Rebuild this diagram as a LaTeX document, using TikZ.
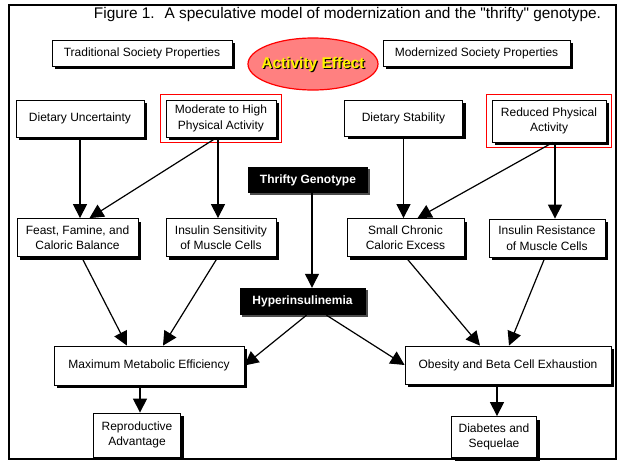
\documentclass[tikz,border=0pt]{standalone}
\usepackage{fontspec}
\setmainfont{Liberation Sans}[Ligatures=TeXOff]
\usepackage{tikz}
\usetikzlibrary{arrows.meta, positioning, calc, fit, shapes.geometric, shadows}

\definecolor{effectred}{HTML}{FF8080}

\tikzset{
    propbox/.style={draw=black, line width=0.8pt, fill=white, align=center, inner sep=0pt,
        font=\fontsize{12}{15.5}\selectfont,
        drop shadow={shadow xshift=3pt, shadow yshift=-3pt, fill=black, opacity=1}},
    genebox/.style={fill=black, text=white, inner sep=0pt,
        font=\fontsize{12}{14}\selectfont\bfseries,
        drop shadow={shadow xshift=2pt, shadow yshift=-2pt, fill=black!70, opacity=1}},
    redframe/.style={draw=red, line width=1pt, inner sep=5pt},
    arr/.style={line width=1.2pt, -{Triangle[length=14pt, width=14pt]}},
}

\begin{document}
\begin{tikzpicture}[x=1pt, y=-1pt]
            \useasboundingbox (0,0) rectangle (619,461);
            \draw[line width=1.6pt] (9,5) rectangle (616,459);
            \node[font=\fontsize{15.4}{18}\selectfont] (title) at (347.5,15) {Figure 1.~ A speculative model of modernization and the "thrifty" genotype.};

            \node[propbox, minimum width=180pt, minimum height=26pt] (trad) at (142,53) {Traditional Society Properties};
            \node[propbox, minimum width=187pt, minimum height=26pt] (modern) at (476.5,53) {Modernized Society Properties};
            \node[ellipse, draw=red, line width=1.2pt, fill=effectred, minimum width=130pt, minimum height=52pt, inner sep=0pt] (effect) at (313,64) {};
            \node[font=\fontsize{15.5}{18}\selectfont\bfseries, text=black] (effectshadow) at ([xshift=1.2pt, yshift=-1.2pt]effect.center) {Activity Effect};
            \node[font=\fontsize{15.5}{18}\selectfont\bfseries, text=yellow] (effecttext) at (effect.center) {Activity Effect};

            \node[propbox, minimum width=128pt, minimum height=37pt] (dunc) at (80,118.5) {Dietary Uncertainty};
            \node[propbox, minimum width=110pt, minimum height=37pt] (modhigh) at (221,118.5) {Moderate to High\\Physical Activity};
            \node[propbox, minimum width=118pt, minimum height=36pt] (dstab) at (403.5,118) {Dietary Stability};
            \node[propbox, minimum width=114pt, minimum height=42pt] (reduced) at (549,121) {Reduced Physical\\Activity};
            \node[redframe, fit=(modhigh)] (modhighframe) {};
            \node[redframe, fit=(reduced)] (reducedframe) {};

            \node[genebox, minimum width=120pt, minimum height=26pt] (thrifty) at (308,180) {Thrifty Genotype};

            \node[propbox, minimum width=121pt, minimum height=38pt] (feast) at (77.5,237.5) {Feast, Famine, and\\Caloric Balance};
            \node[propbox, minimum width=110pt, minimum height=38pt] (insens) at (221,237.5) {Insulin Sensitivity\\of Muscle Cells};
            \node[propbox, minimum width=117pt, minimum height=38pt] (smallchr) at (405.5,237.5) {Small Chronic\\Caloric Excess};
            \node[propbox, minimum width=116pt, minimum height=38pt] (insres) at (547,238) {Insulin Resistance\\of Muscle Cells};

            \node[genebox, minimum width=126pt, minimum height=27pt] (hyper) at (302.5,301.5) {Hyperinsulinemia};

            \node[propbox, minimum width=190pt, minimum height=39pt] (maxeff) at (149,365.5) {Maximum Metabolic Efficiency};
            \node[propbox, minimum width=206pt, minimum height=38pt] (obesity) at (508,365) {Obesity and Beta Cell Exhaustion};
            \node[propbox, minimum width=87pt, minimum height=44pt] (repro) at (137,435) {Reproductive\\Advantage};
            \node[propbox, minimum width=85pt, minimum height=41pt] (diab) at (494,437) {Diabetes and\\Sequelae};

            \draw[arr] (dunc.south) -- (dunc.south |- feast.north);
            \draw[arr] ([xshift=-4pt]modhigh.south) -- ([xshift=12pt]feast.north);
            \draw[arr] ([xshift=-3pt]modhigh.south) -- ([xshift=-3pt]modhigh.south |- insens.north);
            \draw[arr] (dstab.south) -- (dstab.south |- smallchr.north);
            \draw[arr] ([xshift=4pt]reduced.south) -- ([xshift=12pt]smallchr.north);
            \draw[arr] ([xshift=6pt]reduced.south) -- ([xshift=6pt]reduced.south |- insres.north);
            \draw[arr] ([xshift=4pt]thrifty.south) -- ([xshift=4pt]thrifty.south |- hyper.north);
            \draw[arr] ([xshift=4pt]feast.south) -- ([xshift=-22pt]maxeff.north);
            \draw[arr] ([xshift=-3pt]insens.south) -- ([xshift=14pt]maxeff.north);
            \draw[arr] (smallchr.south) -- ([xshift=-28pt]obesity.north);
            \draw[arr] ([xshift=-2pt]insres.south) -- ([xshift=1pt]obesity.north);
            \draw[arr] ([xshift=4pt]hyper.south) -- (maxeff.east);
            \draw[arr] ([xshift=24pt]hyper.south) -- (obesity.west);
            \draw[arr] ([xshift=3pt]repro.north |- maxeff.south) -- ([xshift=3pt]repro.north);
            \draw[arr] ([xshift=3pt]diab.north |- obesity.south) -- ([xshift=3pt]diab.north);
        \end{tikzpicture}
\end{document}
